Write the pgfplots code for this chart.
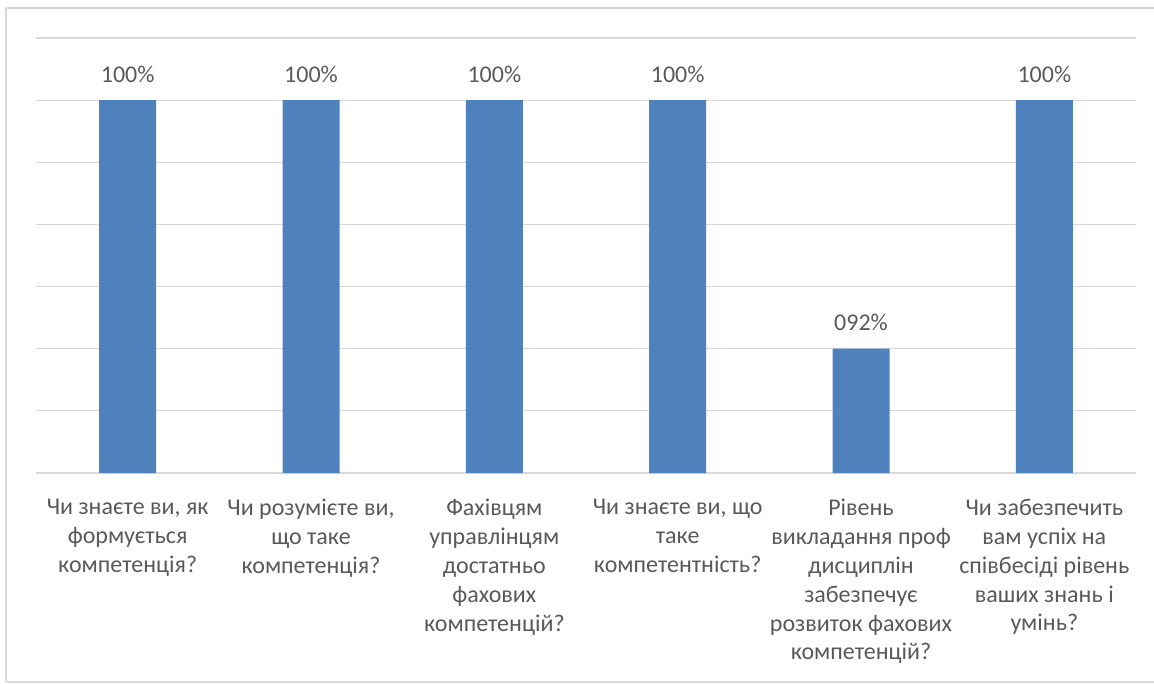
\documentclass[border=0pt]{standalone}
\usepackage{pgfplots}
\pgfplotsset{compat=1.18}
\usepackage{fontspec}
\setmainfont{Carlito}
\definecolor{barblue}{HTML}{4F81BD}
\definecolor{gridgray}{HTML}{D9D9D9}
\definecolor{txtgray}{HTML}{595959}
\begin{document}
\begin{tikzpicture}
\path[use as bounding box] (0,0) rectangle (865.5pt,512.25pt);
\draw[gridgray, line width=1pt] (4.5pt,0.75pt) -- (4.5pt,506.25pt) -- (866pt,506.25pt);
\draw[gridgray, line width=1pt] (4.5pt,0.75pt) -- (866pt,0.75pt);
\begin{axis}[
  at={(27pt,157.5pt)}, anchor=south west,
  scale only axis, width=825pt, height=326.25pt,
  xmin=-0.5, xmax=5.5, ymin=88, ymax=102,
  ytick={88,90,...,102}, yticklabels={},
  ymajorgrids, grid style={gridgray, line width=0.9pt},
  axis line style={draw=none}, tick style={draw=none},
  xtick={0,1,2,3,4,5},
  xticklabels={
    {Чи знаєте ви, як\\формується\\компетенція?},
    {Чи розумієте ви,\\що таке\\компетенція?},
    {Фахівцям\\управлінцям\\достатньо\\фахових\\компетенцій?},
    {Чи знаєте ви, що\\таке\\компетентність?},
    {Рівень\\викладання проф\\дисциплін\\забезпечує\\розвиток фахових\\компетенцій?},
    {Чи забезпечить\\вам успіх на\\співбесіді рівень\\ваших знань і\\умінь?}},
  xticklabel style={font=\fontsize{18pt}{21.6pt}\selectfont, text=txtgray, align=center, anchor=north, yshift=-12pt},
  ybar, bar width=42.75pt,
  nodes near coords, point meta=explicit symbolic,
  nodes near coords style={font=\fontsize{18pt}{21.6pt}\selectfont, text=txtgray, anchor=base, yshift=13.5pt},
  clip=false,
]
\addplot[fill=barblue, draw=none] coordinates {
  (0,100) [100\%]
  (1,100) [100\%]
  (2,100) [100\%]
  (3,100) [100\%]
  (4,92) [092\%]
  (5,100) [100\%]
};
\end{axis}
\end{tikzpicture}
\end{document}
